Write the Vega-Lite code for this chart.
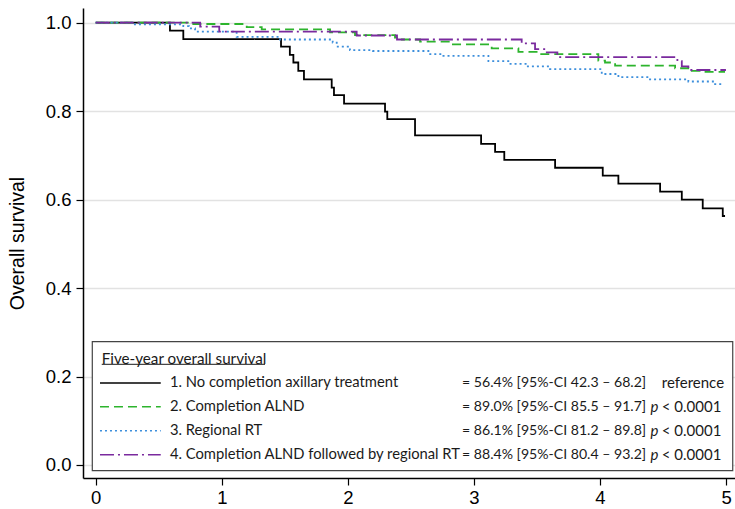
{
  "$schema": "https://vega.github.io/schema/vega-lite/v6.json",
  "width": 652,
  "height": 470,
  "autosize": {"type": "none"},
  "padding": {"left": 83, "top": 8, "right": 0, "bottom": 31},
  "background": "white",
  "config": {"view": {"stroke": null}, "font": "Liberation Sans"},
  "datasets": {
    "km": [
      {"series": "1", "t": 0, "s": 1.0},
      {"series": "1", "t": 0.589, "s": 0.982},
      {"series": "1", "t": 0.695, "s": 0.963},
      {"series": "1", "t": 1.47, "s": 0.946},
      {"series": "1", "t": 1.54, "s": 0.927},
      {"series": "1", "t": 1.568, "s": 0.91},
      {"series": "1", "t": 1.607, "s": 0.891},
      {"series": "1", "t": 1.652, "s": 0.872},
      {"series": "1", "t": 1.872, "s": 0.853},
      {"series": "1", "t": 1.89, "s": 0.836},
      {"series": "1", "t": 1.97, "s": 0.817},
      {"series": "1", "t": 2.295, "s": 0.799},
      {"series": "1", "t": 2.313, "s": 0.782},
      {"series": "1", "t": 2.533, "s": 0.745},
      {"series": "1", "t": 3.057, "s": 0.726},
      {"series": "1", "t": 3.168, "s": 0.708},
      {"series": "1", "t": 3.241, "s": 0.69},
      {"series": "1", "t": 3.644, "s": 0.672},
      {"series": "1", "t": 4.022, "s": 0.654},
      {"series": "1", "t": 4.146, "s": 0.636},
      {"series": "1", "t": 4.477, "s": 0.618},
      {"series": "1", "t": 4.649, "s": 0.6},
      {"series": "1", "t": 4.815, "s": 0.58},
      {"series": "1", "t": 4.974, "s": 0.563},
      {"series": "1", "t": 4.992, "s": 0.563},
      {"series": "2", "t": 0, "s": 1.0},
      {"series": "2", "t": 0.774, "s": 0.997},
      {"series": "2", "t": 1.198, "s": 0.99},
      {"series": "2", "t": 1.317, "s": 0.985},
      {"series": "2", "t": 1.859, "s": 0.978},
      {"series": "2", "t": 2.057, "s": 0.972},
      {"series": "2", "t": 2.374, "s": 0.966},
      {"series": "2", "t": 2.414, "s": 0.962},
      {"series": "2", "t": 2.573, "s": 0.957},
      {"series": "2", "t": 2.811, "s": 0.951},
      {"series": "2", "t": 3.141, "s": 0.942},
      {"series": "2", "t": 3.353, "s": 0.934},
      {"series": "2", "t": 3.525, "s": 0.929},
      {"series": "2", "t": 3.987, "s": 0.914},
      {"series": "2", "t": 4.04, "s": 0.91},
      {"series": "2", "t": 4.12, "s": 0.903},
      {"series": "2", "t": 4.596, "s": 0.897},
      {"series": "2", "t": 4.728, "s": 0.891},
      {"series": "2", "t": 4.82, "s": 0.889},
      {"series": "2", "t": 4.992, "s": 0.889},
      {"series": "3", "t": 0, "s": 1.0},
      {"series": "3", "t": 0.298, "s": 0.996},
      {"series": "3", "t": 0.695, "s": 0.992},
      {"series": "3", "t": 0.74, "s": 0.987},
      {"series": "3", "t": 0.788, "s": 0.98},
      {"series": "3", "t": 1.118, "s": 0.968},
      {"series": "3", "t": 1.462, "s": 0.962},
      {"series": "3", "t": 1.88, "s": 0.955},
      {"series": "3", "t": 1.912, "s": 0.946},
      {"series": "3", "t": 2.017, "s": 0.938},
      {"series": "3", "t": 2.2, "s": 0.936},
      {"series": "3", "t": 2.639, "s": 0.929},
      {"series": "3", "t": 2.758, "s": 0.925},
      {"series": "3", "t": 3.115, "s": 0.913},
      {"series": "3", "t": 3.273, "s": 0.907},
      {"series": "3", "t": 3.419, "s": 0.901},
      {"series": "3", "t": 3.604, "s": 0.895},
      {"series": "3", "t": 4.014, "s": 0.884},
      {"series": "3", "t": 4.146, "s": 0.877},
      {"series": "3", "t": 4.384, "s": 0.872},
      {"series": "3", "t": 4.701, "s": 0.867},
      {"series": "3", "t": 4.913, "s": 0.861},
      {"series": "3", "t": 4.966, "s": 0.861},
      {"series": "4", "t": 0, "s": 1.0},
      {"series": "4", "t": 0.829, "s": 0.991},
      {"series": "4", "t": 0.98, "s": 0.98},
      {"series": "4", "t": 2.07, "s": 0.971},
      {"series": "4", "t": 2.39, "s": 0.962},
      {"series": "4", "t": 3.379, "s": 0.953},
      {"series": "4", "t": 3.485, "s": 0.94},
      {"series": "4", "t": 3.578, "s": 0.933},
      {"series": "4", "t": 3.662, "s": 0.922},
      {"series": "4", "t": 4.614, "s": 0.913},
      {"series": "4", "t": 4.649, "s": 0.901},
      {"series": "4", "t": 4.701, "s": 0.893},
      {"series": "4", "t": 4.992, "s": 0.891}
    ],
    "leg": [
      {"series": "1", "row": 1, "name": "1. No completion axillary treatment", "stat": "= 56.4% [95%-CI 42.3 – 68.2]", "pi": "", "pr": "reference"},
      {"series": "2", "row": 2, "name": "2. Completion ALND", "stat": "= 89.0% [95%-CI 85.5 – 91.7]", "pi": "p", "pr": "< 0.0001"},
      {"series": "3", "row": 3, "name": "3. Regional RT", "stat": "= 86.1% [95%-CI 81.2 – 89.8]", "pi": "p", "pr": "< 0.0001"},
      {"series": "4", "row": 4, "name": "4. Completion ALND followed by regional RT", "stat": "= 88.4% [95%-CI 80.4 – 93.2]", "pi": "p", "pr": "< 0.0001"}
    ]
  },
  "layer": [
    {
      "data": {"name": "km"},
      "mark": {"type": "line", "interpolate": "step-after", "strokeWidth": 1.8},
      "encoding": {
        "x": {
          "field": "t", "type": "quantitative",
          "scale": {"domain": [-0.1007, 5.071], "nice": false, "zero": false},
          "axis": {"values": [0, 1, 2, 3, 4, 5], "format": "d", "title": null, "grid": false,
            "labelFontSize": 18.5, "labelColor": "#000", "labelPadding": 3, "labelFlush": false,
            "tickSize": 7, "tickColor": "#000", "tickWidth": 1.2,
            "domainColor": "#000", "domainWidth": 1.5}
        },
        "y": {
          "field": "s", "type": "quantitative",
          "scale": {"domain": [-0.0294, 1.0332], "nice": false, "zero": false},
          "axis": {"values": [0, 0.2, 0.4, 0.6, 0.8, 1.0], "format": ".1f",
            "title": "Overall survival", "titleFontSize": 19.5, "titleFontWeight": "normal", "titleColor": "#000",
            "titleX": -66, "titleY": 235, "titleAngle": -90, "titleAlign": "center", "titleBaseline": "middle",
            "labelFontSize": 18.5, "labelColor": "#000", "labelPadding": 5, "labelFlush": false,
            "tickSize": 7, "tickColor": "#000", "tickWidth": 1.2,
            "domainColor": "#000", "domainWidth": 1.5,
            "grid": true, "gridColor": "#e2e2e2", "gridWidth": 1.5}
        },
        "color": {"field": "series", "type": "nominal",
          "scale": {"domain": ["1", "2", "3", "4"], "range": ["#000000", "#2db42d", "#3d8fdc", "#7a2a9e"]},
          "legend": null},
        "strokeDash": {"field": "series", "type": "nominal",
          "scale": {"domain": ["1", "2", "3", "4"], "range": [[1, 0], [9, 5], [2, 3], [14, 4, 2, 4]]},
          "legend": null}
      }
    },
    {
      "layer": [
        {
          "data": {"values": [{"box": "legend"}]},
          "mark": {"type": "rect", "fill": "white", "stroke": "#444444", "strokeWidth": 1.2},
          "encoding": {
            "x": {"datum": -0.027, "type": "quantitative"},
            "x2": {"datum": 5.053},
            "y": {"datum": -0.726, "type": "quantitative", "scale": {"domain": [-14.689, 4.976], "reverse": true, "nice": false, "zero": false}, "axis": null},
            "y2": {"datum": 4.67}
          }
        },
        {
          "data": {"values": [{"txt": "Five-year overall survival", "row": 0}]},
          "mark": {"type": "text", "align": "left", "baseline": "middle", "font": "Lato", "fontSize": 15.2, "color": "#1a1a1a"},
          "encoding": {
            "x": {"datum": 0.048, "type": "quantitative"},
            "y": {"field": "row", "type": "quantitative"},
            "text": {"field": "txt"}
          }
        },
        {
          "data": {"values": [{"row": 0.219}]},
          "mark": {"type": "rule", "color": "#1a1a1a", "strokeWidth": 1},
          "encoding": {
            "x": {"datum": 0.048, "type": "quantitative"},
            "x2": {"datum": 1.343},
            "y": {"field": "row", "type": "quantitative"}
          }
        },
        {
          "data": {"name": "leg"},
          "mark": {"type": "rule", "strokeWidth": 1.5},
          "encoding": {
            "x": {"datum": 0.034, "type": "quantitative"},
            "x2": {"datum": 0.516},
            "y": {"field": "row", "type": "quantitative"},
            "color": {"field": "series", "type": "nominal", "legend": null},
            "strokeDash": {"field": "series", "type": "nominal", "legend": null}
          }
        },
        {
          "data": {"name": "leg"},
          "mark": {"type": "text", "align": "left", "baseline": "middle", "font": "Lato", "fontSize": 14.75, "color": "#1a1a1a"},
          "encoding": {
            "x": {"datum": 0.589, "type": "quantitative"},
            "y": {"field": "row", "type": "quantitative"},
            "text": {"field": "name"}
          }
        },
        {
          "data": {"name": "leg"},
          "mark": {"type": "text", "align": "left", "baseline": "middle", "font": "Lato", "fontSize": 14.1, "color": "#1a1a1a"},
          "encoding": {
            "x": {"datum": 2.906, "type": "quantitative"},
            "y": {"field": "row", "type": "quantitative"},
            "text": {"field": "stat"}
          }
        },
        {
          "data": {"name": "leg"},
          "mark": {"type": "text", "align": "left", "baseline": "middle", "font": "Lato", "fontSize": 15, "fontStyle": "italic", "color": "#1a1a1a"},
          "encoding": {
            "x": {"datum": 4.40, "type": "quantitative"},
            "y": {"field": "row", "type": "quantitative"},
            "text": {"field": "pi"}
          }
        },
        {
          "data": {"name": "leg"},
          "mark": {"type": "text", "align": "left", "baseline": "middle", "font": "Lato", "fontSize": 15, "color": "#1a1a1a"},
          "encoding": {
            "x": {"datum": 4.49, "type": "quantitative"},
            "y": {"field": "row", "type": "quantitative"},
            "text": {"field": "pr"}
          }
        }
      ]
    }
  ],
  "resolve": {"scale": {"y": "independent"}}
}
